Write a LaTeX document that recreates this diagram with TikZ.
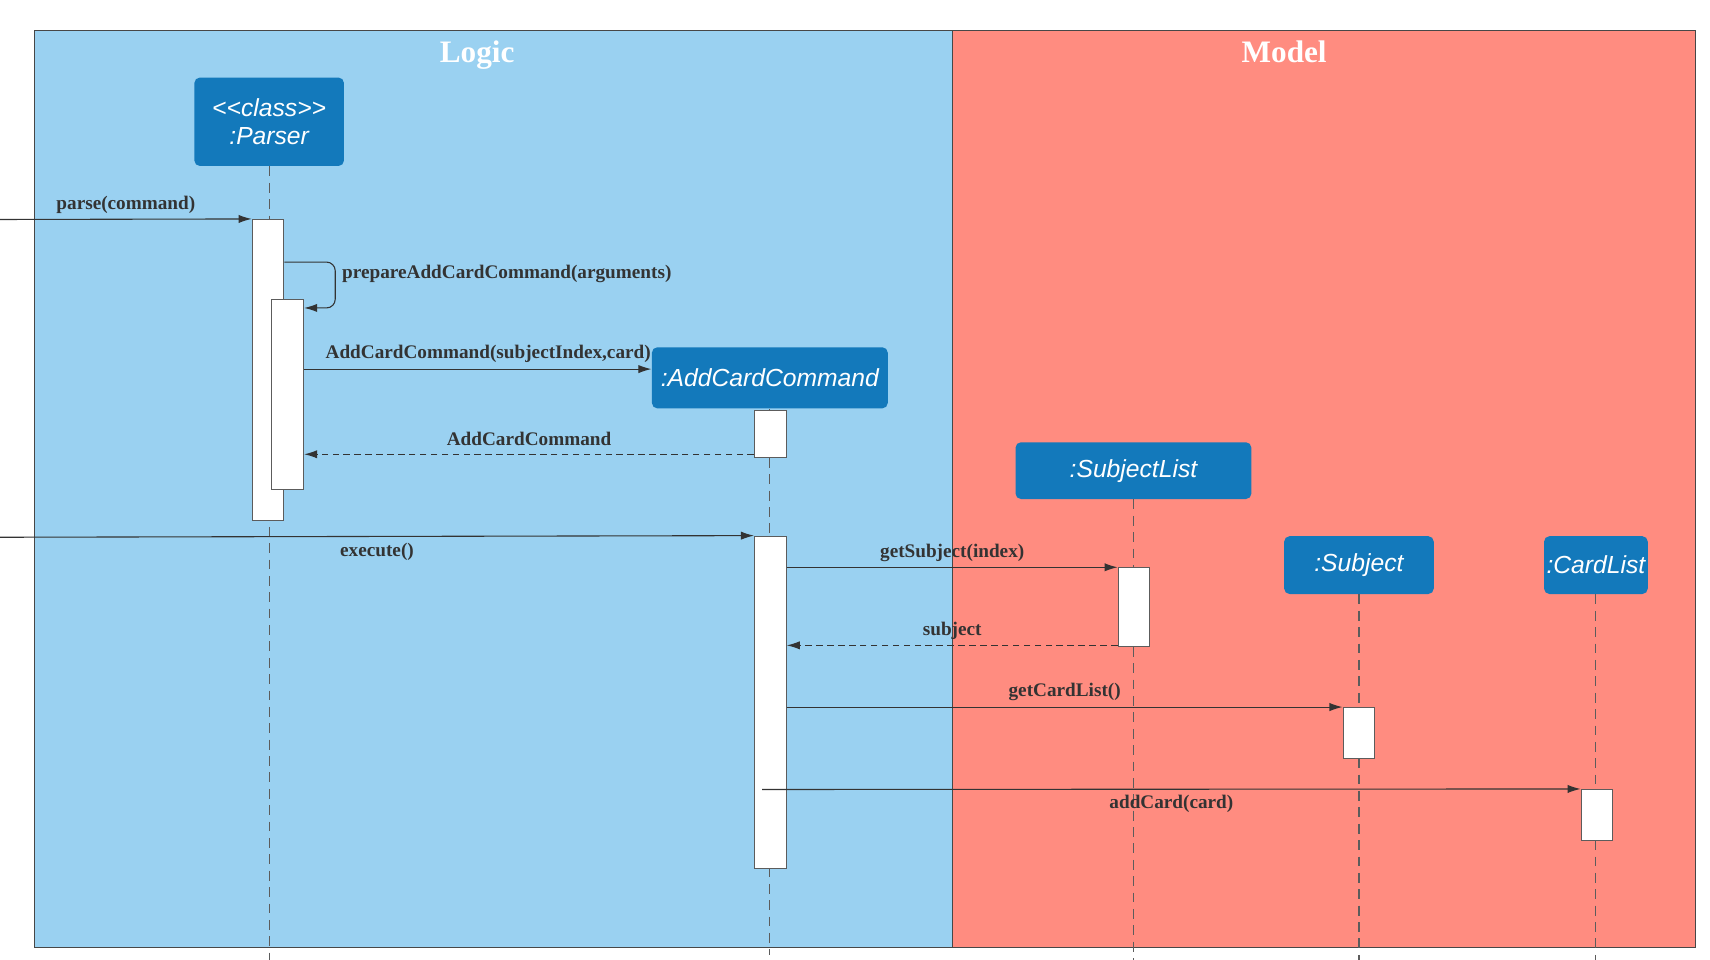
\documentclass[tikz,border=0pt]{standalone}
\usepackage{fontspec}
\setmainfont{Liberation Serif}
\newfontfamily\objfont{Liberation Sans}
\usetikzlibrary{arrows.meta}
\definecolor{logicblue}{HTML}{9AD1F1}
\definecolor{modelred}{HTML}{FF8C80}
\definecolor{objblue}{HTML}{1379BB}
\definecolor{ink}{HTML}{333333}

\begin{document}
\begin{tikzpicture}[x=0.5pt,y=-0.5pt]
\tikzstyle{every node}+=[inner sep=0pt]
\tikzstyle{obj}=[rectangle, rounded corners=2.5pt, fill=objblue, text=white, font=\objfont\itshape\fontsize{11.3}{13.5}\selectfont, align=center]
\tikzstyle{act}=[rectangle, draw=ink!80, fill=white, line width=0.5pt, minimum width=14.5pt]
\tikzstyle{life}=[ink!80, line width=0.5pt, dash pattern=on 4.5pt off 3pt]
\tikzstyle{msg}=[ink, line width=0.5pt, -{Latex[length=6pt,width=3.8pt]}]
\tikzstyle{ret}=[msg, dash pattern=on 3pt off 2pt]
\tikzstyle{lbl}=[text=ink, font=\bfseries\fontsize{8.8}{10}\selectfont]
\tikzstyle{lanetitle}=[text=white, anchor=base, font=\bfseries\fontsize{14.3}{16}\selectfont]
\useasboundingbox (0,0) rectangle (1566,879);
\fill [white] (0,0) rectangle (1566,879);
\draw [ink!90, line width=0.5pt, fill=logicblue] (32,28) rectangle (872,868);
\draw [ink!90, line width=0.5pt, fill=modelred] (872,28) rectangle (1553,868);
\node [lanetitle] (logic) at (437,57) {Logic};
\node [lanetitle] (model) at (1176,57) {Model};
\node [obj, minimum width=68.5pt, minimum height=40.5pt] (parser) at (246.5,111.5) {<\kern0pt<class>\kern0pt>\\[-0.5pt]:Parser};
\node [obj, minimum width=108pt, minimum height=28pt] (addcmd) at (705,346) {:AddCardCommand};
\node [obj, minimum width=108pt, minimum height=26pt] (sublist) at (1038,431) {:SubjectList};
\node [obj, minimum width=68.5pt, minimum height=26.5pt] (subject) at (1244.5,517.5) {:Subject};
\node [obj, minimum width=47.5pt, minimum height=26.5pt] (cardlist) at (1461.5,517.5) {:CardList};
\draw [life] (parser.south) -- (parser.south |- 0,879);
\draw [life] (addcmd.south) -- (addcmd.south |- 0,875);
\draw [life] (sublist.south) -- (sublist.south |- 0,879);
\draw [life] (subject.south) -- (subject.south |- 0,879);
\draw [life] (cardlist.south) -- (cardlist.south |- 0,879);
\node [act, minimum height=138pt] (pact1) at (245.5,339) {};
\node [act, minimum height=87pt] (pact2) at (263.5,361) {};
\node [act, minimum height=21.5pt] (aact1) at (705.5,397.5) {};
\node [act, minimum height=152pt] (aact2) at (705.5,643) {};
\node [act, minimum height=36pt] (sact) at (1038.5,556) {};
\node [act, minimum height=23.5pt] (uact) at (1244.5,671.5) {};
\node [act, minimum height=23.5pt] (cact) at (1462.5,746.5) {};
\coordinate (caller1) at (0,201);
\coordinate (caller2) at (0,492);
\coordinate (addsrc) at (698,723);
\draw [msg] (caller1) -- (pact1.north west) node [lbl, midway, above=2.5pt] {parse(command)};
\draw [msg, rounded corners=4pt] (pact1.east |- 0,240) -| (307,282) -- (pact2.east |- 0,282);
\node [lbl, anchor=west] (prepare) at (313,251) {prepareAddCardCommand(arguments)};
\draw [msg] (pact2.east |- 0,338) -- (addcmd.west |- 0,338) node [lbl, pos=0.53, above=2.5pt] {AddCardCommand(subjectIndex,card)};
\draw [ret] (aact1.west |- 0,416) -- (pact2.east |- 0,416) node [lbl, midway, above=3.5pt] {AddCardCommand};
\draw [msg] (caller2) -- (aact2.north west) node [lbl, midway, below=3pt] {execute()};
\draw [msg] (aact2.east |- sact.north) -- (sact.north west) node [lbl, midway, above=2.5pt] {getSubject(index)};
\draw [ret] (sact.west |- 0,591) -- (aact2.east |- 0,591) node [lbl, midway, above=2.5pt] {subject};
\draw [msg] (aact2.east |- uact.north) -- (uact.north west) node [lbl, midway, above=2.5pt] {getCardList()};
\draw [msg] (addsrc) -- (cact.north west) node [lbl, midway, below=2.5pt] {addCard(card)};
\end{tikzpicture}
\end{document}
